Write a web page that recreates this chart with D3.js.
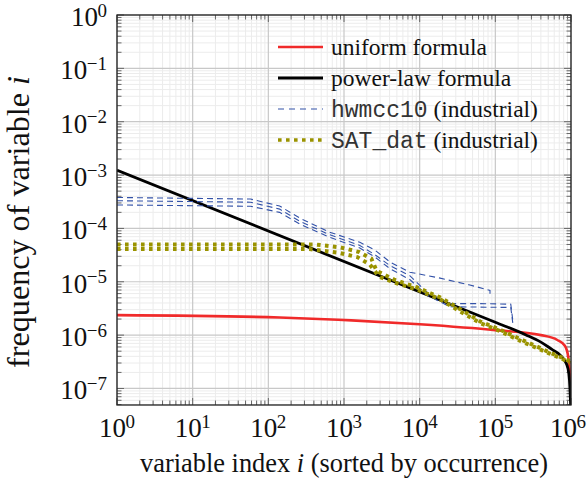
<!DOCTYPE html>
<html>
<head>
<meta charset="utf-8">
<script src="https://cdn.jsdelivr.net/npm/d3@7"></script>
<style>
  body { margin: 0; background: #fff; }
  text { font-family: "Liberation Serif", "Times New Roman", serif; }
</style>
</head>
<body>
<div id="chart"></div>
<script>
// tick exponents (labels are 10^k)
const xExps = [0, 1, 2, 3, 4, 5, 6];
const yExps = [0, -1, -2, -3, -4, -5, -6, -7];

// [variable index i, frequency]
const uniform = [
  [1, 2.37e-6], [141, 2.14e-6], [1e4, 1.6e-6], [1e5, 1.24e-6], [4e5, 1.0e-6],
  [6.6e5, 8.1e-7], [8.3e5, 6.3e-7], [9.2e5, 3.9e-7], [9.65e5, 1.95e-7], [9.8e5, 1.3e-7]
];
const powerLaw = [
  [1, 1.23e-3], [1e5, 1.74e-6], [2.5e5, 1.02e-6], [4e5, 7.4e-7], [5.6e5, 5.4e-7],
  [7.1e5, 4.3e-7], [8.3e5, 3.3e-7], [9.1e5, 2.4e-7], [9.55e5, 1.4e-7], [9.9e5, 4.8e-8]
];
const hwmccA = [
  [1, 3.8e-4], [58, 3.55e-4], [141, 2.63e-4], [263, 1.55e-4], [646, 8.5e-5],
  [1620, 5.5e-5], [2570, 3.9e-5], [4070, 2.34e-5], [7400, 1.51e-5], [1.86e4, 1.17e-5],
  [4.6e4, 8.7e-6], [8.5e4, 6.9e-6], [8.5e4, 5.4e-6]
];
const hwmccB = [
  [1, 3.3e-4], [58, 3.1e-4], [141, 2.3e-4], [263, 1.35e-4], [646, 7.6e-5],
  [1620, 4.8e-5], [2570, 3.2e-5], [4070, 2.0e-5], [7400, 1.3e-5], [1.26e4, 6.3e-6],
  [2.5e4, 3.9e-6], [6.3e4, 3.9e-6], [1.6e5, 3.8e-6], [1.7e5, 1.9e-6]
];
const hwmccC = [
  [1, 2.75e-4], [58, 2.6e-4], [141, 2.0e-4], [263, 1.2e-4], [646, 6.8e-5],
  [1620, 4.3e-5], [2570, 2.9e-5], [4070, 1.75e-5], [7400, 1.1e-5], [1.26e4, 5.6e-6],
  [2.5e4, 3.4e-6], [6.3e4, 3.35e-6], [1.6e5, 3.3e-6], [1.7e5, 1.7e-6]
];
const satA = [
  [1, 5.0e-5], [420, 5.0e-5], [900, 4.4e-5], [1600, 3.6e-5], [2300, 2.7e-5],
  [2700, 1.6e-5], [4700, 1.08e-5], [9100, 7.9e-6], [1.86e4, 5.1e-6], [3.4e4, 3.1e-6],
  [6.3e4, 1.8e-6], [1.15e5, 1.27e-6], [2.14e5, 8.4e-7], [3.55e5, 6.1e-7], [5.25e5, 4.7e-7],
  [7.6e5, 3.8e-7], [9.8e5, 3.2e-7]
];
const satB = [
  [1, 4.1e-5], [350, 4.1e-5], [850, 3.5e-5], [1500, 2.9e-5], [2200, 2.1e-5],
  [2900, 1.25e-5], [4700, 9.6e-6], [9100, 7.2e-6], [1.86e4, 4.7e-6], [3.4e4, 2.8e-6],
  [6.3e4, 1.68e-6], [1.15e5, 1.19e-6], [2.14e5, 7.8e-7], [3.55e5, 5.7e-7], [5.25e5, 4.5e-7],
  [7.6e5, 3.6e-7], [9.8e5, 3.0e-7]
];

const W = 587, H = 480;
const m = { left: 117, top: 15, right: 16, bottom: 75 };
const iw = W - m.left - m.right, ih = H - m.top - m.bottom;

const x = d3.scaleLog().domain([1, 1e6]).range([0, iw]);
const y = d3.scaleLog().domain([4.9e-8, 1]).range([ih, 0]);

const svg = d3.select("#chart").append("svg").attr("width", W).attr("height", H);
const g = svg.append("g").attr("transform", `translate(${m.left},${m.top})`);

svg.append("defs").append("clipPath").attr("id", "clip")
  .append("rect").attr("width", iw).attr("height", ih);

// minor positions 2..9 per decade
const minors = (lo, hi) => {
  const out = [];
  for (let k = lo; k <= hi; k++) for (let d = 2; d <= 9; d++) out.push(d * Math.pow(10, k));
  return out;
};
const xMinor = minors(0, 5);
const yMinor = minors(-8, -1).filter(v => v >= y.domain()[0]);
const xMajor = xExps.map(e => Math.pow(10, e));
const yMajor = yExps.map(e => Math.pow(10, e));

// grid
g.append("g").selectAll("line").data(xMinor).join("line")
  .attr("x1", d => x(d)).attr("x2", d => x(d)).attr("y1", 0).attr("y2", ih)
  .attr("stroke", "#ececec").attr("stroke-width", 1);
g.append("g").selectAll("line").data(yMinor).join("line")
  .attr("y1", d => y(d)).attr("y2", d => y(d)).attr("x1", 0).attr("x2", iw)
  .attr("stroke", "#ececec").attr("stroke-width", 1);
g.append("g").selectAll("line").data(xMajor).join("line")
  .attr("x1", d => x(d)).attr("x2", d => x(d)).attr("y1", 0).attr("y2", ih)
  .attr("stroke", "#c8c8c8").attr("stroke-width", 1.2);
g.append("g").selectAll("line").data(yMajor).join("line")
  .attr("y1", d => y(d)).attr("y2", d => y(d)).attr("x1", 0).attr("x2", iw)
  .attr("stroke", "#c8c8c8").attr("stroke-width", 1.2);

// inward ticks on all four sides
const ticks = g.append("g").attr("stroke", "#666").attr("stroke-width", 1);
[[xMajor, 7], [xMinor, 4.5]].forEach(([vals, len]) => {
  ticks.append("g").selectAll("line").data(vals).join("line")
    .attr("x1", d => x(d)).attr("x2", d => x(d)).attr("y1", ih).attr("y2", ih - len);
  ticks.append("g").selectAll("line").data(vals).join("line")
    .attr("x1", d => x(d)).attr("x2", d => x(d)).attr("y1", 0).attr("y2", len);
});
[[yMajor, 7], [yMinor, 4.5]].forEach(([vals, len]) => {
  ticks.append("g").selectAll("line").data(vals).join("line")
    .attr("y1", d => y(d)).attr("y2", d => y(d)).attr("x1", 0).attr("x2", len);
  ticks.append("g").selectAll("line").data(vals).join("line")
    .attr("y1", d => y(d)).attr("y2", d => y(d)).attr("x1", iw).attr("x2", iw - len);
});

// series
const line = d3.line().x(d => x(d[0])).y(d => y(d[1]));
const smooth = d3.line().x(d => x(d[0])).y(d => y(d[1])).curve(d3.curveMonotoneX);
const plot = g.append("g").attr("clip-path", "url(#clip)").attr("fill", "none");

const red = "#f02a2a", blue = "#3352a8", olive = "#9a9300";

plot.append("path").datum(uniform).attr("d", smooth)
  .attr("stroke", red).attr("stroke-width", 2.6);
plot.append("path").datum(powerLaw).attr("d", smooth)
  .attr("stroke", "#000").attr("stroke-width", 2.8);
[hwmccA, hwmccB, hwmccC].forEach(s => {
  plot.append("path").datum(s).attr("d", line)
    .attr("stroke", blue).attr("stroke-width", 1.1).attr("stroke-dasharray", "6,4");
});
[satA, satB].forEach(s => {
  plot.append("path").datum(s).attr("d", line)
    .attr("stroke", olive).attr("stroke-width", 4).attr("stroke-dasharray", "3.6,4.4");
});

// frame
g.append("rect").attr("width", iw).attr("height", ih)
  .attr("fill", "none").attr("stroke", "#222").attr("stroke-width", 1.3);

// tick labels 10^k
const expText = k => (k < 0 ? "\u2212" + (-k) : String(k));
const pow10 = (sel) => sel.each(function (d) {
  const t = d3.select(this);
  t.append("tspan").text("10");
  t.append("tspan").attr("font-size", 19).attr("dx", -0.5).attr("dy", -9.5).text(expText(d));
});
g.append("g").selectAll("text").data(xExps).join("text")
  .attr("x", d => Math.min(x(Math.pow(10, d)), iw - 3)).attr("y", ih + 32)
  .attr("text-anchor", "middle").attr("font-size", 27).attr("fill", "#111")
  .call(pow10);
g.append("g").selectAll("text").data(yExps).join("text")
  .attr("x", -10).attr("y", d => y(Math.pow(10, d)) + 11)
  .attr("text-anchor", "end").attr("font-size", 27).attr("fill", "#111")
  .call(pow10);

// axis labels, sized to the width they take in the original
const fit = (t, target) => {
  const w = t.node().getComputedTextLength();
  t.attr("font-size", 25 * target / w);
};
const xl = svg.append("text")
  .attr("x", m.left + iw / 2).attr("y", 472)
  .attr("text-anchor", "middle").attr("font-size", 25).attr("fill", "#111");
xl.append("tspan").text("variable index ");
xl.append("tspan").attr("font-style", "italic").text("i");
xl.append("tspan").text(" (sorted by occurrence)");
fit(xl, 408);

const yl = svg.append("text")
  .attr("transform", "translate(29,222) rotate(-90)")
  .attr("text-anchor", "middle").attr("font-size", 25).attr("fill", "#111");
yl.append("tspan").text("frequency of variable ");
yl.append("tspan").attr("font-style", "italic").text("i");
fit(yl, 292);

// legend
const legendNames = ["uniform formula", "power-law formula", "hwmcc10", "SAT_dat"];
const legendRows = [
  { stroke: red, width: 2.6, dash: null },
  { stroke: "#000", width: 2.8, dash: null },
  { stroke: blue, width: 1.1, dash: "6,5" },
  { stroke: olive, width: 3.6, dash: "3.6,4.4" }
];
const leg = svg.append("g").attr("transform", "translate(278,47)");
legendRows.forEach((r, idx) => {
  const row = leg.append("g").attr("transform", `translate(0,${idx * 31})`);
  row.append("line").attr("x1", 0).attr("x2", 45).attr("y1", 0).attr("y2", 0)
    .attr("stroke", r.stroke).attr("stroke-width", r.width)
    .attr("stroke-dasharray", r.dash);
  const t = row.append("text").attr("x", 53).attr("y", 8)
    .attr("font-size", 23.5).attr("fill", "#111");
  if (idx < 2) {
    t.text(legendNames[idx]);
  } else {
    t.append("tspan").attr("font-family", "'Liberation Mono', monospace")
      .attr("font-size", 23).attr("fill", "#333").text(legendNames[idx]);
    t.append("tspan").text(" (industrial)");
  }
});
</script>
</body>
</html>
